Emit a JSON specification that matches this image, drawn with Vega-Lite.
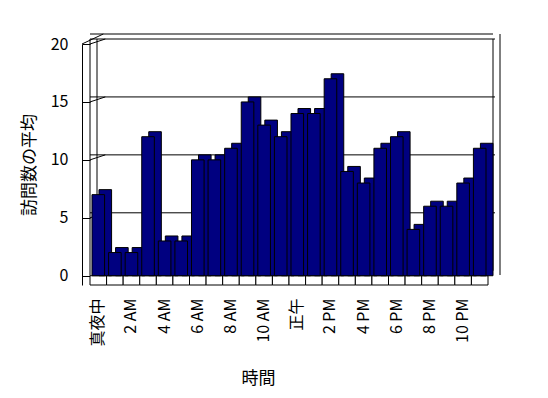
{
  "$schema": "https://vega.github.io/schema/vega-lite/v6.json",
  "width": 398,
  "height": 241,
  "autosize": "none",
  "padding": {"left": 90, "top": 44, "right": 60, "bottom": 113},
  "background": "white",
  "config": {
    "view": {"stroke": null},
    "font": "Noto Sans CJK JP",
    "axis": {"labelColor": "black", "titleColor": "black", "titleFontWeight": "normal", "domainColor": "black", "tickColor": "black", "grid": false}
  },
  "data": {"values": [
    {"時間": "真夜中", "訪問数": 7},
    {"時間": "1 AM", "訪問数": 2},
    {"時間": "2 AM", "訪問数": 2},
    {"時間": "3 AM", "訪問数": 12},
    {"時間": "4 AM", "訪問数": 3},
    {"時間": "5 AM", "訪問数": 3},
    {"時間": "6 AM", "訪問数": 10},
    {"時間": "7 AM", "訪問数": 10},
    {"時間": "8 AM", "訪問数": 11},
    {"時間": "9 AM", "訪問数": 15},
    {"時間": "10 AM", "訪問数": 13},
    {"時間": "11 AM", "訪問数": 12},
    {"時間": "正午", "訪問数": 14},
    {"時間": "1 PM", "訪問数": 14},
    {"時間": "2 PM", "訪問数": 17},
    {"時間": "3 PM", "訪問数": 9},
    {"時間": "4 PM", "訪問数": 8},
    {"時間": "5 PM", "訪問数": 11},
    {"時間": "6 PM", "訪問数": 12},
    {"時間": "7 PM", "訪問数": 4},
    {"時間": "8 PM", "訪問数": 6},
    {"時間": "9 PM", "訪問数": 6},
    {"時間": "10 PM", "訪問数": 8},
    {"時間": "11 PM", "訪問数": 11}
  ]},
  "layer": [
    {
      "data": {"values": [{"g": 5}, {"g": 10}, {"g": 15}, {"g": 20}]},
      "mark": {"type": "rule", "color": "black", "strokeWidth": 1, "xOffset": 7, "x2Offset": 7, "yOffset": -5},
      "encoding": {
        "y": {"field": "g", "type": "quantitative"}
      }
    },
    {
      "data": {"values": [{"g": 5}, {"g": 10}, {"g": 15}, {"g": 20}]},
      "mark": {"type": "rule", "color": "black", "strokeWidth": 1, "x2Offset": 7, "y2Offset": -5},
      "encoding": {
        "x": {"datum": "真夜中", "type": "nominal", "bandPosition": 0},
        "x2": {"datum": "真夜中"},
        "y": {"field": "g", "type": "quantitative"},
        "y2": {"field": "g"}
      }
    },
    {
      "data": {"values": [{"w": 1}]},
      "mark": {"type": "rule", "color": "black", "strokeWidth": 1, "xOffset": 5, "x2Offset": 12, "yOffset": -10},
      "encoding": {
        "y": {"datum": 20, "type": "quantitative"}
      }
    },
    {
      "data": {"values": [{"w": 1}]},
      "mark": {"type": "rule", "color": "black", "strokeWidth": 1, "xOffset": -8, "x2Offset": 5, "y2Offset": -10},
      "encoding": {
        "x": {"datum": "真夜中", "type": "nominal", "bandPosition": 0},
        "x2": {"datum": "真夜中"},
        "y": {"datum": 20, "type": "quantitative"},
        "y2": {"datum": 20}
      }
    },
    {
      "transform": [{"filter": "datum['時間'] == '11 PM'"}],
      "mark": {"type": "rule", "color": "black", "strokeWidth": 1, "xOffset": 12, "yOffset": -10, "y2Offset": -10},
      "encoding": {
        "x": {"field": "時間", "type": "nominal", "bandPosition": 1},
        "y": {"datum": -0.8, "type": "quantitative"},
        "y2": {"datum": 20}
      }
    },
    {
      "transform": [{"filter": "datum['時間'] == '11 PM'"}],
      "mark": {"type": "rule", "color": "black", "strokeWidth": 1, "xOffset": 5, "yOffset": -5, "y2Offset": -5},
      "encoding": {
        "x": {"field": "時間", "type": "nominal", "bandPosition": 1},
        "y": {"datum": 0, "type": "quantitative"},
        "y2": {"datum": 20}
      }
    },
    {
      "transform": [{"filter": "datum['時間'] == '真夜中'"}],
      "mark": {"type": "rule", "color": "black", "strokeWidth": 1, "xOffset": 7, "yOffset": -5, "y2Offset": -5},
      "encoding": {
        "x": {"field": "時間", "type": "nominal", "bandPosition": 0},
        "y": {"datum": 0, "type": "quantitative"},
        "y2": {"datum": 20}
      }
    },
    {
      "transform": [{"filter": "datum['時間'] == '真夜中'"}],
      "mark": {"type": "rule", "color": "black", "strokeWidth": 1, "y2Offset": -5},
      "encoding": {
        "x": {"field": "時間", "type": "nominal", "bandPosition": 0},
        "y": {"datum": 0, "type": "quantitative"},
        "y2": {"datum": 20}
      }
    },
    {
      "mark": {"type": "bar", "fill": "white", "stroke": "black", "strokeWidth": 1, "width": {"band": 1}},
      "encoding": {
        "x": {
          "field": "時間", "type": "nominal", "sort": null,
          "scale": {"domain": ["真夜中", "1 AM", "2 AM", "3 AM", "4 AM", "5 AM", "6 AM", "7 AM", "8 AM", "9 AM", "10 AM", "11 AM", "正午", "1 PM", "2 PM", "3 PM", "4 PM", "5 PM", "6 PM", "7 PM", "8 PM", "9 PM", "10 PM", "11 PM"], "paddingInner": 0, "paddingOuter": 0},
          "axis": {
            "values": ["真夜中", "2 AM", "4 AM", "6 AM", "8 AM", "10 AM", "正午", "2 PM", "4 PM", "6 PM", "8 PM", "10 PM"],
            "labelAngle": -90, "labelFontSize": 16, "labelPadding": 13,
            "ticks": false, "domain": false,
            "title": "時間", "titleFontSize": 17, "titlePadding": 24, "titleX": 168
          }
        },
        "y": {"datum": -0.8, "type": "quantitative"},
        "y2": {"datum": 0}
      }
    },
    {
      "mark": {"type": "bar", "fill": "#000080", "stroke": "black", "strokeWidth": 1, "width": {"band": 0.76}, "xOffset": 7, "x2Offset": 7, "yOffset": -5},
      "encoding": {
        "x": {"field": "時間", "type": "nominal", "sort": null},
        "y": {"field": "訪問数", "type": "quantitative"},
        "y2": {"datum": 0}
      }
    },
    {
      "mark": {"type": "bar", "fill": "#000080", "stroke": "black", "strokeWidth": 1, "width": {"band": 0.76}},
      "encoding": {
        "x": {"field": "時間", "type": "nominal", "sort": null},
        "y": {
          "field": "訪問数", "type": "quantitative",
          "scale": {"domain": [-0.8, 20], "nice": false, "zero": false},
          "axis": {
            "values": [0, 5, 10, 15, 20], "offset": 8, "tickSize": -8,
            "labelFontSize": 16, "labelPadding": 22,
            "title": "訪問数の平均", "titleFontSize": 17, "titlePadding": 12
          }
        },
        "y2": {"datum": 0}
      }
    }
  ]
}
